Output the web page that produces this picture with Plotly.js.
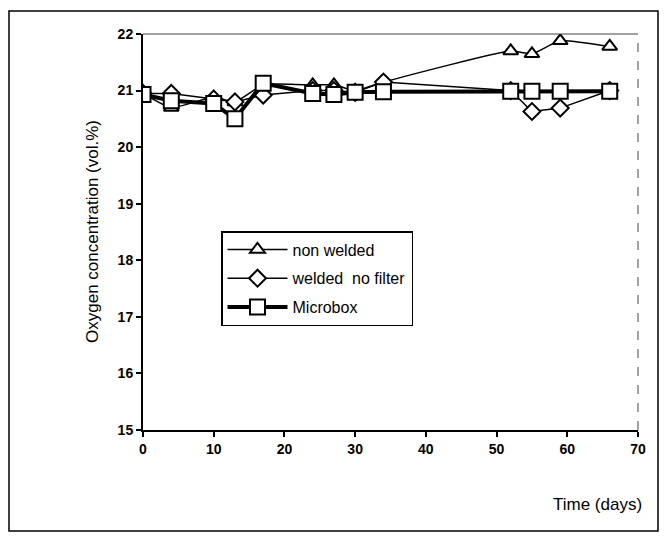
<!DOCTYPE html>
<html>
<head>
<meta charset="utf-8">
<script src="https://cdn.plot.ly/plotly-3.0.1.min.js"></script>
<style>
html,body{margin:0;padding:0;background:#fff;}
#chart{width:669px;height:536px;}
</style>
</head>
<body>
<div id="chart"></div>
<script>
// Data
const days = [0, 4, 10, 13, 17, 24, 27, 30, 34, 52, 55, 59, 66];
const nonWelded = [20.95, 20.7, 20.88, 20.8, 21.1, 21.1, 21.1, 21.0, 21.15, 21.7, 21.65, 21.88, 21.78];
const weldedNoFilter = [20.95, 20.95, 20.85, 20.8, 20.92, 21.0, 21.0, 20.97, 21.15, 21.0, 20.63, 20.69, 21.0];
const microbox = [20.93, 20.82, 20.77, 20.5, 21.13, 20.95, 20.93, 20.97, 20.98, 20.99, 20.99, 20.99, 20.99];
const seriesNames = ["non welded", "welded  no filter", "Microbox"];
const xTicks = [0, 10, 20, 30, 40, 50, 60, 70];
const yTicks = [15, 16, 17, 18, 19, 20, 21, 22];

// plot-area geometry (pixels) for placing decorations
const W = 669, H = 536;
const L = 143, R = 638, T = 34, B = 430;
const px = x => (x - L) / (R - L);
const py = y => (B - y) / (B - T);

const font = "Arial, 'Liberation Sans', sans-serif";

const traces = [
  {
    x: days, y: nonWelded, name: seriesNames[0], type: "scatter", mode: "lines+markers",
    line: {color: "#000", width: 1.5, shape: "spline", smoothing: 0.5},
    marker: {symbol: "triangle-up", size: 13, color: "#fff", line: {width: 2, color: "#000"}},
    legendgroup: "a"
  },
  {
    x: days, y: weldedNoFilter, name: seriesNames[1], type: "scatter", mode: "lines+markers",
    line: {color: "#000", width: 1.5},
    marker: {symbol: "diamond", size: 13, color: "#fff", line: {width: 2, color: "#000"}},
    legendgroup: "b"
  },
  {
    x: days, y: microbox, name: seriesNames[2], type: "scatter", mode: "lines+markers",
    line: {color: "#000", width: 4},
    marker: {symbol: "square", size: 15, color: "#fff", line: {width: 2, color: "#000"}},
    legendgroup: "c"
  }
];

const tickFont = {family: font, size: 14, color: "#000", weight: "bold"};

const layout = {
  width: W, height: H,
  margin: {l: L, r: W - R, t: T, b: H - B, pad: 0},
  paper_bgcolor: "#fff", plot_bgcolor: "#fff",
  showlegend: true,
  font: {family: font, color: "#000"},
  xaxis: {
    range: [0, 70], tickvals: xTicks, ticktext: xTicks.map(String),
    showgrid: false, zeroline: false,
    showline: true, linecolor: "#000", linewidth: 2,
    ticks: "outside", ticklen: 5, tickwidth: 2, tickcolor: "#000",
    tickfont: tickFont
  },
  yaxis: {
    range: [15, 22], tickvals: yTicks, ticktext: yTicks.map(String),
    showgrid: false, zeroline: false,
    showline: true, linecolor: "#000", linewidth: 2,
    ticks: "outside", ticklen: 5, tickwidth: 2, tickcolor: "#000",
    tickfont: tickFont
  },
  legend: {
    x: px(221), y: py(231), xanchor: "left", yanchor: "top",
    bgcolor: "#fff", bordercolor: "#000", borderwidth: 1.5,
    font: {family: font, size: 16, color: "#000"},
    traceorder: "grouped", tracegroupgap: 5,
    itemwidth: 60
  },
  annotations: [
    {
      text: "Oxygen concentration (vol.%)", xref: "paper", yref: "paper",
      x: px(92), y: py(232), xanchor: "center", yanchor: "middle",
      textangle: -90, showarrow: false,
      font: {family: font, size: 17, color: "#000"}
    },
    {
      text: "Time (days)", xref: "paper", yref: "paper",
      x: px(597), y: py(504), xanchor: "center", yanchor: "middle",
      showarrow: false,
      font: {family: font, size: 17, color: "#000"}
    }
  ],
  shapes: [
    {type: "line", xref: "paper", yref: "paper", x0: 0, x1: 1, y0: 1, y1: 1,
     line: {color: "#444", width: 1.2}},
    {type: "line", xref: "paper", yref: "paper", x0: 1, x1: 1, y0: 0, y1: 1,
     line: {color: "#666", width: 1.2, dash: "dash"}},
    {type: "rect", xref: "paper", yref: "paper",
     x0: px(9), x1: px(658), y0: py(531), y1: py(11),
     line: {color: "#000", width: 1.5}}
  ]
};

Plotly.newPlot("chart", traces, layout, {displayModeBar: false, staticPlot: true});
</script>
</body>
</html>
